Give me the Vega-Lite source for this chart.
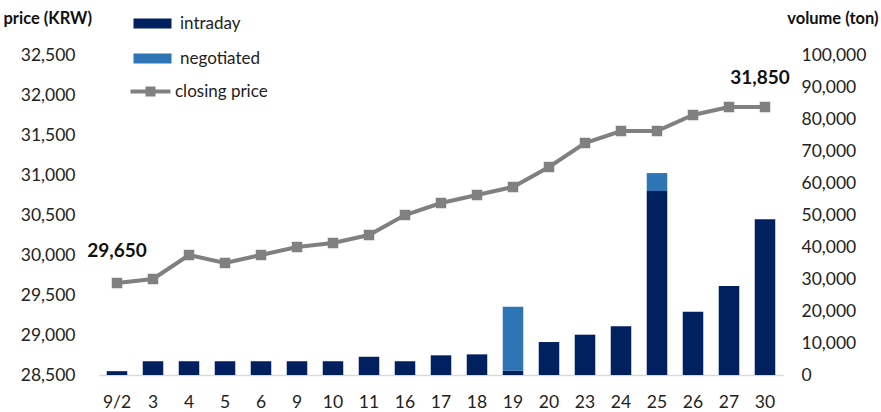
{
  "$schema": "https://vega.github.io/schema/vega-lite/v6.json",
  "width": 684,
  "height": 320,
  "autosize": {"type": "none"},
  "padding": {"left": 99, "top": 55, "right": 98, "bottom": 37},
  "background": "white",
  "config": {
    "font": "Lato",
    "view": {"stroke": null},
    "axis": {"grid": false, "ticks": false, "domain": false, "labelFont": "Lato", "labelFontSize": 17.5, "labelColor": "#222222", "titleFont": "Lato", "titleColor": "#111111", "labelOverlap": false},
    "legend": {"labelFont": "Lato", "labelFontSize": 17, "labelColor": "#222222", "padding": 0}
  },
  "data": {
    "values": [
      {"date": "9/2", "intraday": 1200, "negotiated": 0, "price": 29650, "label": "29,650", "side": "start"},
      {"date": "3", "intraday": 4300, "negotiated": 0, "price": 29700},
      {"date": "4", "intraday": 4300, "negotiated": 0, "price": 30000},
      {"date": "5", "intraday": 4300, "negotiated": 0, "price": 29900},
      {"date": "6", "intraday": 4300, "negotiated": 0, "price": 30000},
      {"date": "9", "intraday": 4300, "negotiated": 0, "price": 30100},
      {"date": "10", "intraday": 4300, "negotiated": 0, "price": 30150},
      {"date": "11", "intraday": 5700, "negotiated": 0, "price": 30250},
      {"date": "16", "intraday": 4300, "negotiated": 0, "price": 30500},
      {"date": "17", "intraday": 6150, "negotiated": 0, "price": 30650},
      {"date": "18", "intraday": 6450, "negotiated": 0, "price": 30750},
      {"date": "19", "intraday": 1350, "negotiated": 20000, "price": 30850},
      {"date": "20", "intraday": 10300, "negotiated": 0, "price": 31100},
      {"date": "23", "intraday": 12600, "negotiated": 0, "price": 31400},
      {"date": "24", "intraday": 15200, "negotiated": 0, "price": 31550},
      {"date": "25", "intraday": 57500, "negotiated": 5600, "price": 31550},
      {"date": "26", "intraday": 19800, "negotiated": 0, "price": 31750},
      {"date": "27", "intraday": 27800, "negotiated": 0, "price": 31850},
      {"date": "30", "intraday": 48650, "negotiated": 0, "price": 31850, "label": "31,850", "side": "end"}
    ]
  },
  "encoding": {
    "x": {
      "field": "date",
      "type": "ordinal",
      "scale": {
        "domain": ["9/2", "3", "4", "5", "6", "9", "10", "11", "16", "17", "18", "19", "20", "23", "24", "25", "26", "27", "30"],
        "paddingInner": 0.43,
        "paddingOuter": 0.215
      },
      "axis": {"title": null, "labelAngle": 0, "domain": true, "domainColor": "#d9d9d9", "domainWidth": 1.5, "labelPadding": 18}
    }
  },
  "layer": [
    {
      "transform": [{"fold": ["intraday", "negotiated"], "as": ["type", "volume"]}],
      "mark": {"type": "bar"},
      "encoding": {
        "y": {
          "field": "volume",
          "type": "quantitative",
          "stack": "zero",
          "scale": {"domain": [0, 100000], "nice": false},
          "axis": {
            "orient": "right",
            "values": [0, 10000, 20000, 30000, 40000, 50000, 60000, 70000, 80000, 90000, 100000],
            "format": ",.0f",
            "labelPadding": 18,
            "labelOverlap": false,
            "title": "volume (ton)",
            "titleAngle": 0,
            "titleAlign": "right",
            "titleBaseline": "middle",
            "titleX": 95,
            "titleY": -37,
            "titleFontSize": 16.5,
            "titleFontWeight": "bold"
          }
        },
        "color": {
          "field": "type",
          "type": "nominal",
          "scale": {"domain": ["intraday", "negotiated"], "range": ["#002060", "#2E75B6"]},
          "legend": {
            "orient": "none",
            "legendX": 45,
            "legendY": -40,
            "title": null,
            "symbolType": "M-3.8,-1H3.8V1H-3.8Z",
            "symbolSize": 100,
            "symbolStrokeWidth": 0,
            "labelOffset": 19,
            "rowPadding": 17
          }
        },
        "order": {"field": "type", "sort": "ascending"}
      }
    },
    {
      "encoding": {
        "y": {
          "field": "price",
          "type": "quantitative",
          "scale": {"domain": [28500, 32500], "nice": false, "zero": false},
          "axis": {
            "orient": "left",
            "values": [28500, 29000, 29500, 30000, 30500, 31000, 31500, 32000, 32500],
            "format": ",.0f",
            "labelOverlap": false,
            "labelPadding": 24,
            "title": "price (KRW)",
            "titleAngle": 0,
            "titleAlign": "left",
            "titleBaseline": "middle",
            "titleX": -96,
            "titleY": -37,
            "titleFontSize": 16.5,
            "titleFontWeight": "bold"
          }
        }
      },
      "layer": [
        {
          "mark": {"type": "line", "color": "#808080", "strokeWidth": 4}
        },
        {
          "mark": {"type": "point", "shape": "square", "filled": true, "size": 110, "opacity": 1},
          "encoding": {
            "color": {
              "datum": "closing price",
              "type": "nominal",
              "scale": {"domain": ["closing price"], "range": ["#808080"]},
              "legend": {
                "orient": "none",
                "legendX": 43,
                "legendY": 28,
                "title": null,
                "symbolType": "M-4,0H4M-0.6,-0.6H0.6V0.6H-0.6Z",
                "symbolSize": 100,
                "symbolStrokeColor": "#808080",
                "symbolStrokeWidth": 4,
                "labelOffset": 16
              }
            }
          }
        },
        {
          "transform": [{"filter": "datum.side == 'start'"}],
          "mark": {"type": "text", "fontWeight": "bold", "fontSize": 19, "dy": -32, "color": "#111111", "font": "Lato"},
          "encoding": {
            "text": {"field": "label"}
          }
        },
        {
          "transform": [{"filter": "datum.side == 'end'"}],
          "mark": {"type": "text", "fontWeight": "bold", "fontSize": 19, "dy": -29, "dx": -5, "color": "#111111", "font": "Lato"},
          "encoding": {
            "text": {"field": "label"}
          }
        }
      ]
    }
  ],
  "resolve": {"scale": {"y": "independent", "color": "independent"}}
}
